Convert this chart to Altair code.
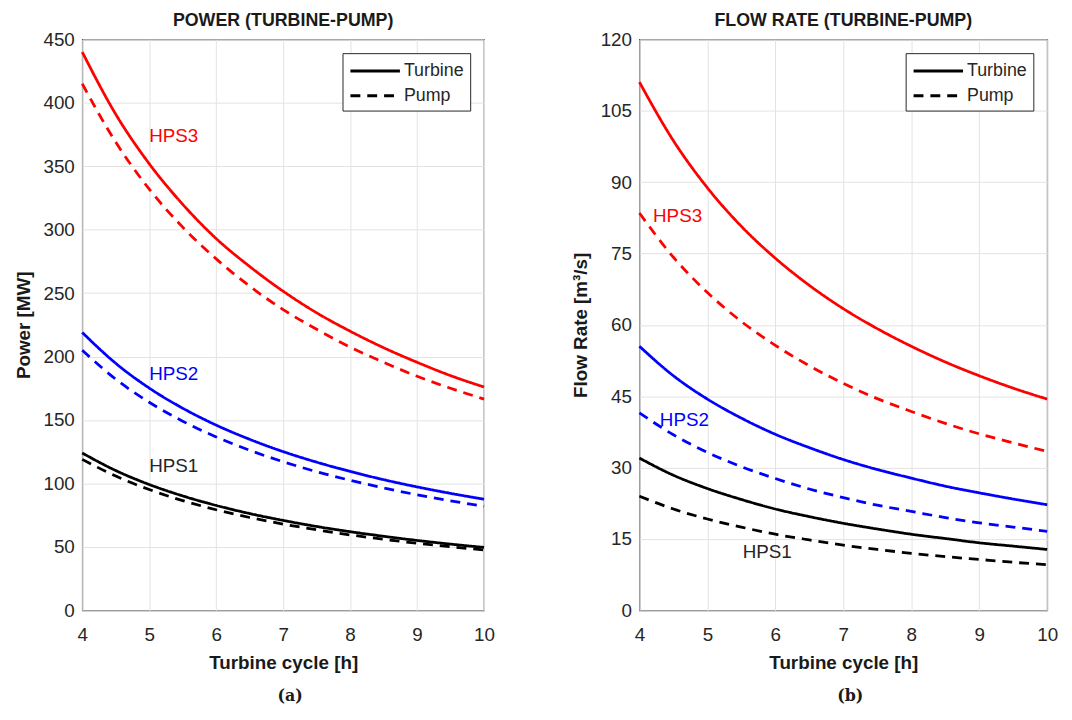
import altair as alt
import pandas as pd

# ---------------- data ----------------
hours = [4, 4.5, 5, 5.5, 6, 6.5, 7, 7.5, 8, 8.5, 9, 9.5, 10]

# Power [MW]
p_hps3_turbine = [440, 391, 352, 320, 293, 271, 251.5, 234.5, 220, 207, 195.5, 185, 176]
p_hps3_pump    = [415, 369, 332, 302, 277, 255.5, 237, 221.5, 207.5, 195.5, 184.5, 175, 166.5]
p_hps2_turbine = [219, 194.7, 175.2, 159.3, 146, 134.8, 125.1, 116.8, 109.5, 103, 97.3, 92.2, 87.6]
p_hps2_pump    = [205, 182.2, 164, 149.1, 136.7, 126.2, 117.1, 109.3, 102.5, 96.5, 91.1, 86.3, 82]
p_hps1_turbine = [124, 110.2, 99.2, 90.2, 82.7, 76.3, 70.9, 66.1, 62, 58.4, 55.1, 52.2, 49.6]
p_hps1_pump    = [119, 105.8, 95.2, 86.5, 79.3, 73.2, 68, 63.5, 59.5, 56, 52.9, 50.1, 47.6]

# Flow rate [m3/s]
q_hps3_turbine = [111, 98.7, 88.8, 80.7, 74, 68.3, 63.4, 59.2, 55.5, 52.2, 49.3, 46.7, 44.4]
q_hps3_pump    = [83.5, 74.2, 66.8, 60.7, 55.7, 51.4, 47.7, 44.5, 41.8, 39.3, 37.1, 35.2, 33.4]
q_hps2_turbine = [55.5, 49.3, 44.4, 40.4, 37, 34.2, 31.7, 29.6, 27.8, 26.1, 24.7, 23.4, 22.2]
q_hps2_pump    = [41.5, 36.9, 33.2, 30.2, 27.7, 25.5, 23.7, 22.1, 20.8, 19.5, 18.4, 17.5, 16.6]
q_hps1_turbine = [32, 28.4, 25.6, 23.3, 21.3, 19.7, 18.3, 17.1, 16, 15.1, 14.2, 13.5, 12.8]
q_hps1_pump    = [24, 21.3, 19.2, 17.5, 16, 14.8, 13.7, 12.8, 12, 11.3, 10.7, 10.1, 9.6]

systems = ["HPS1", "HPS2", "HPS3"]
sys_colors = ["#000000", "#0000FF", "#FF0000"]
types = ["Turbine", "Pump"]

# annotation labels
power_lbl_text = ["HPS3", "HPS2", "HPS1"]
power_lbl_x = [5.0, 5.0, 5.0]
power_lbl_y = [374, 186, 113.5]
power_lbl_color = ["#FF0000", "#0000FF", "#262626"]

flow_lbl_text = ["HPS3", "HPS2", "HPS1"]
flow_lbl_x = [4.2, 4.3, 5.52]
flow_lbl_y = [82.8, 40, 12.2]
flow_lbl_color = ["#FF0000", "#0000FF", "#262626"]


def long_table(series):
    rows = []
    for (sysname, typ), vals in series.items():
        for h, v in zip(hours, vals):
            rows.append({"h": h, "v": v, "sys": sysname, "type": typ,
                         "key": sysname + "-" + typ})
    return pd.DataFrame(rows)


power_df = long_table({
    ("HPS3", "Turbine"): p_hps3_turbine, ("HPS3", "Pump"): p_hps3_pump,
    ("HPS2", "Turbine"): p_hps2_turbine, ("HPS2", "Pump"): p_hps2_pump,
    ("HPS1", "Turbine"): p_hps1_turbine, ("HPS1", "Pump"): p_hps1_pump,
})
flow_df = long_table({
    ("HPS3", "Turbine"): q_hps3_turbine, ("HPS3", "Pump"): q_hps3_pump,
    ("HPS2", "Turbine"): q_hps2_turbine, ("HPS2", "Pump"): q_hps2_pump,
    ("HPS1", "Turbine"): q_hps1_turbine, ("HPS1", "Pump"): q_hps1_pump,
})

power_lbl = pd.DataFrame({"h": power_lbl_x, "v": power_lbl_y,
                          "t": power_lbl_text, "c": power_lbl_color})
flow_lbl = pd.DataFrame({"h": flow_lbl_x, "v": flow_lbl_y,
                         "t": flow_lbl_text, "c": flow_lbl_color})

FONT = "Liberation Sans"
AX = "#262626"
TXT = "#1a1a1a"


def panel(df, lbl, ymax, ystep, ytitle, title, width):
    x = alt.X("h:Q", scale=alt.Scale(domain=[4, 10], nice=False),
              axis=alt.Axis(values=list(range(4, 11)), title="Turbine cycle [h]",
                            format="d", labelFlush=False))
    y = alt.Y("v:Q", scale=alt.Scale(domain=[0, ymax], nice=False),
              axis=alt.Axis(values=list(range(0, ymax + 1, ystep)), title=ytitle))
    lines = alt.Chart(df).mark_line(strokeWidth=2.8, interpolate="monotone").encode(
        x=x, y=y,
        color=alt.Color("sys:N", scale=alt.Scale(domain=systems, range=sys_colors),
                        legend=None),
        strokeDash=alt.StrokeDash(
            "type:N",
            scale=alt.Scale(domain=types, range=[[1, 0], [10, 7]]),
            legend=alt.Legend(title=None, orient="top-right", offset=14,
                              symbolType="M-1,0H4", symbolSize=400,
                              symbolStrokeWidth=3.2, symbolStrokeColor="#000000",
                              labelFont=FONT, labelFontSize=18, labelColor=AX,
                              strokeColor=AX, fillColor="white", padding=6,
                              rowPadding=4, labelOffset=32)),
        detail="key:N",
    )
    texts = alt.Chart(lbl).mark_text(align="left", baseline="middle",
                                     font=FONT, fontSize=19).encode(
        x="h:Q", y="v:Q", text="t:N", color=alt.Color("c:N", scale=None))
    return alt.layer(lines, texts).properties(
        width=width, height=577,
        title=alt.TitleParams(title, font=FONT, fontSize=18, fontWeight="bold",
                              color=TXT, offset=0),
    ).resolve_scale(color="independent")


left = panel(power_df, power_lbl, 450, 50, "Power [MW]",
             "POWER (TURBINE-PUMP)", 406)
right = panel(flow_df, flow_lbl, 120, 15, "Flow Rate [m³/s]",
              "FLOW RATE (TURBINE-PUMP)", 412)


def wrap(ch, label):
    return alt.vconcat(ch, title=alt.TitleParams(
        label, orient="bottom", anchor="middle", dx=36,
        font="DejaVu Serif", fontSize=16, fontWeight="bold",
        color=TXT, offset=15)).resolve_scale(
        strokeDash="independent").resolve_legend(strokeDash="independent")


chart = alt.hconcat(wrap(left, "(a)"), wrap(right, "(b)"), spacing=75).resolve_scale(
    strokeDash="independent"
).resolve_legend(strokeDash="independent").properties(
    padding={"left": 5, "top": 0, "right": 5, "bottom": 0}
).configure_view(
    stroke=AX, strokeWidth=1.2
).configure_axis(
    labelFont=FONT, labelFontSize=19, labelColor=AX,
    titleFont=FONT, titleFontSize=19, titleFontWeight="bold", titleColor=TXT,
    grid=True, gridColor="#e3e3e3", gridWidth=1,
    ticks=False, domain=False,
).configure_axisX(titlePadding=10, labelPadding=15).configure_axisY(
    titlePadding=10, labelPadding=8
)

chart.save("out.html", embed_options={"renderer": "svg", "actions": False})
